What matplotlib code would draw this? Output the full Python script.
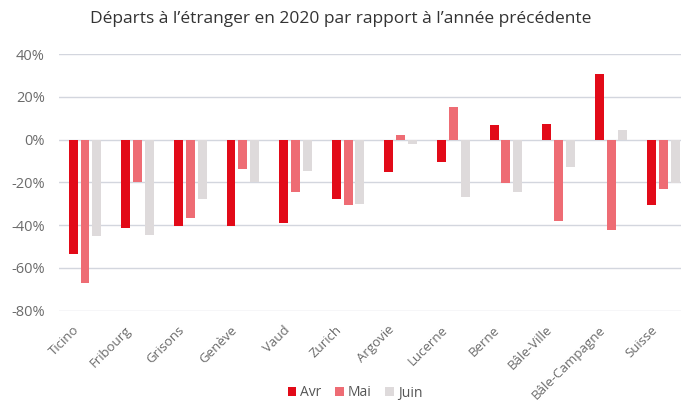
import matplotlib
matplotlib.use("Agg")
import matplotlib.pyplot as plt
import matplotlib.transforms as mtransforms
import numpy as np

# ---------------------------------------------------------------------------
# Data (% change vs previous year)
# ---------------------------------------------------------------------------

CANTONS = ["Ticino", "Fribourg", "Grisons", "Genève", "Vaud", "Zurich",
           "Argovie", "Lucerne", "Berne", "Bâle-Ville", "Bâle-Campagne", "Suisse"]
AVR = [-53.5, -41.5, -40.5, -40.5, -39, -27.7, -15, -10.4, 7, 7.5, 30.7, -30.7]
MAI = [-67, -20, -36.6, -13.7, -24.6, -30.7, 2.2, 15.1, -20.2, -38.1, -42.5, -22.9]
JUIN = [-45, -44.6, -27.7, -20, -14.8, -29.9, -2.3, -26.9, -24.6, -12.9, 4.5, -20.5]

SERIES = ["Avr", "Mai", "Juin"]
COLORS = {"Avr": "#E20A18", "Mai": "#EE6C74", "Juin": "#DEDADB"}

YTICKS = [40, 20, 0, -20, -40, -60, -80]

plt.rcParams.update({
    "font.family": ["Open Sans", "DejaVu Sans"],
})

W, H = 681, 403
fig = plt.figure(figsize=(W / 100, H / 100), dpi=100)
# plot area runs slightly past the right edge of the image, like the original crop
left, right, top, bottom = 58.7, 690, 54, 310.7
ax = fig.add_axes([left / W, 1 - bottom / H, (right - left) / W, (bottom - top) / H])

x = np.arange(len(CANTONS))
width = 0.17
step = 0.225
for i, (name, vals) in enumerate(zip(SERIES, [AVR, MAI, JUIN])):
    ax.bar(x + (i - 1) * step, vals, width=width, color=COLORS[name],
           label=name, zorder=3)

ax.set_xlim(-0.5, len(CANTONS) - 0.5)
ax.set_ylim(-80, 40)
ax.set_yticks(YTICKS)
ax.set_yticklabels([f"{v}%" for v in YTICKS], fontsize=10.5, color="#6b6b6b")
ax.yaxis.grid(True, color="#D3D6DE", linewidth=1.0, zorder=0)
ax.tick_params(axis="y", length=0, pad=10)
ax.tick_params(axis="x", length=0, pad=2)
for s in ax.spines.values():
    s.set_visible(False)

ax.set_xticks(x)
ax.set_xticklabels(CANTONS, rotation=45, ha="right", rotation_mode="anchor",
                   fontsize=9.5, color="#6b6b6b")
offset = mtransforms.ScaledTranslation(-9 / 72, -7 / 72, fig.dpi_scale_trans)
for lbl in ax.get_xticklabels():
    lbl.set_transform(lbl.get_transform() + offset)

fig.text(341 / W, 1 - 19 / H,
         "Départs à l’étranger en 2020 par rapport à l’année précédente",
         ha="center", va="center", fontsize=12.5, color="#333333")

fig.legend(loc="center", bbox_to_anchor=(355 / W, 1 - 393 / H), ncol=3,
           frameon=False, fontsize=10, handlelength=0.6, handleheight=0.6,
           handletextpad=0.3, columnspacing=1.0, labelcolor="#555555",
           borderpad=0.1)

fig.savefig("out.png", dpi=100)
